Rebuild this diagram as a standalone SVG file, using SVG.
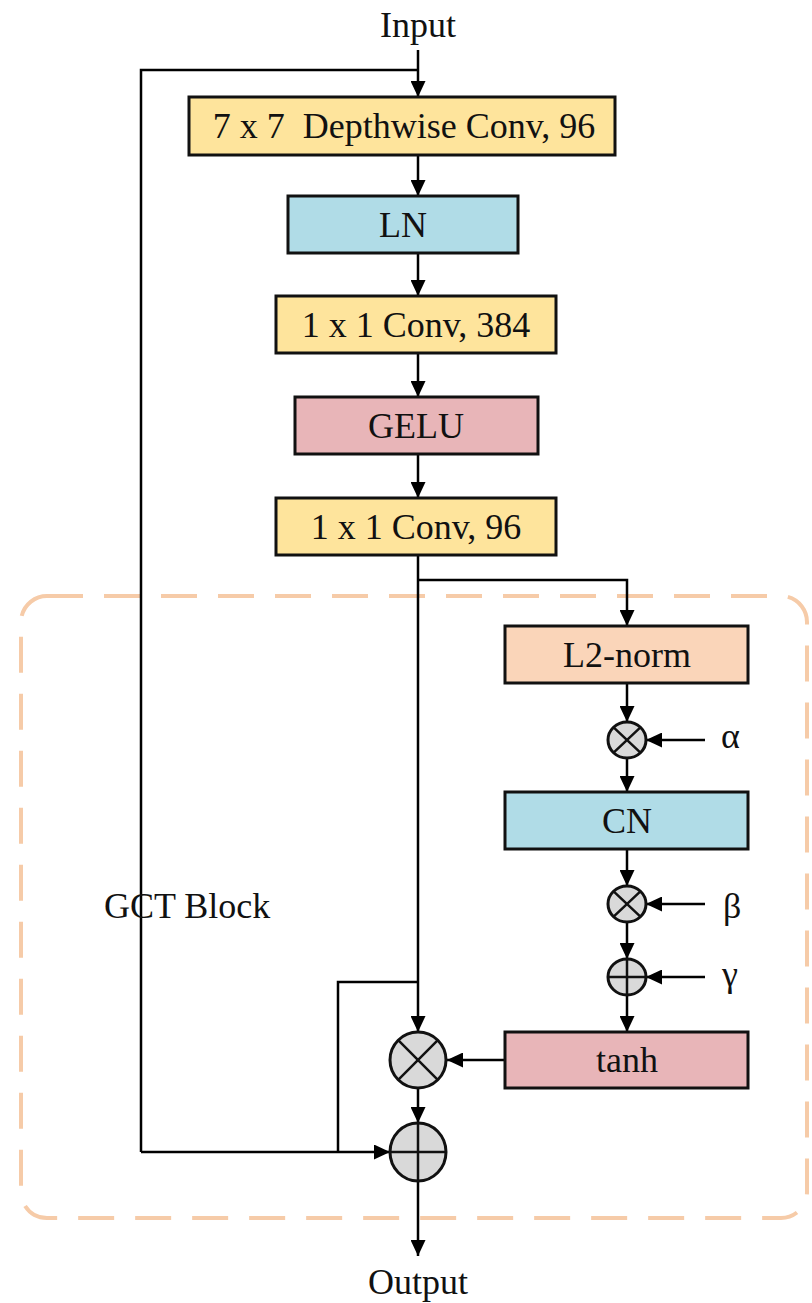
<svg xmlns="http://www.w3.org/2000/svg" width="812" height="1303" viewBox="0 0 812 1303">
<defs>
<marker id="ah" viewBox="0 0 16 15" refX="16" refY="7.5" markerWidth="16" markerHeight="15" markerUnits="userSpaceOnUse" orient="auto">
<path d="M0,0 L16,7.5 L0,15 Z" fill="#000"/>
</marker>
<style>
.box{stroke:#111;stroke-width:3}
.yel{fill:#FEE49C}
.blu{fill:#B0DCE7}
.pnk{fill:#E8B5B8}
.pch{fill:#FAD5B9}
.t{font-family:"Liberation Serif","Times New Roman",serif;font-size:36px;fill:#111;text-anchor:middle}
.tl{font-family:"Liberation Serif","Times New Roman",serif;font-size:36px;fill:#111}
.c{stroke:#000;stroke-width:2.5;fill:none}
.a{stroke:#000;stroke-width:2.5;fill:none;marker-end:url(#ah)}
.op{fill:#D9D9D9;stroke:#111;stroke-width:3}
.opl{stroke:#111;stroke-width:2.5;fill:none}
</style>
</defs>
<rect id="gct-frame" x="21" y="596" width="786" height="622" rx="26" fill="none" stroke="#F6CBA8" stroke-width="4" stroke-dasharray="36 21"/>
<g id="connectors">
<path class="c" d="M141,1152 L141,70 L418,70"/>
<path class="a" d="M418,50 L418,97"/>
<path class="a" d="M418,155 L418,196"/>
<path class="a" d="M418,253 L418,296"/>
<path class="a" d="M418,353 L418,397"/>
<path class="a" d="M418,454 L418,498"/>
<path class="a" d="M418,555 L418,1032"/>
<path class="a" d="M418,580 L627,580 L627,626"/>
<path class="a" d="M627,683 L627,722"/>
<path class="a" d="M705,740 L646,740"/>
<path class="a" d="M627,758 L627,792"/>
<path class="a" d="M627,849 L627,886"/>
<path class="a" d="M705,904 L646,904"/>
<path class="a" d="M627,922 L627,959"/>
<path class="a" d="M705,977 L646,977"/>
<path class="a" d="M627,995 L627,1032"/>
<path class="a" d="M505,1060 L447,1060"/>
<path class="a" d="M418,1088 L418,1123"/>
<path class="c" d="M418,982 L338,982 L338,1152"/>
<path class="a" d="M141,1152 L390,1152"/>
<path class="a" d="M418,1181 L418,1256"/>
</g>
<g id="input"><text class="t" x="418" y="37">Input</text></g>
<g id="dwconv"><rect class="box yel" x="189" y="97" width="426" height="58"/><text class="t" x="404" y="138" xml:space="preserve">7 x 7  Depthwise Conv, 96</text></g>
<g id="ln"><rect class="box blu" x="288" y="196" width="230" height="57"/><text class="t" x="403" y="237">LN</text></g>
<g id="conv384"><rect class="box yel" x="276" y="296" width="280" height="57"/><text class="t" x="416" y="337">1 x 1 Conv, 384</text></g>
<g id="gelu"><rect class="box pnk" x="295" y="397" width="243" height="57"/><text class="t" x="416" y="438">GELU</text></g>
<g id="conv96"><rect class="box yel" x="276" y="498" width="280" height="57"/><text class="t" x="416" y="539">1 x 1 Conv, 96</text></g>
<g id="l2norm"><rect class="box pch" x="505" y="626" width="243" height="57"/><text class="t" x="627" y="667">L2-norm</text></g>
<g id="mul-alpha"><ellipse class="op" cx="627" cy="740" rx="19" ry="18"/><path class="opl" d="M613.6,727.3 L640.4,752.7 M640.4,727.3 L613.6,752.7"/></g>
<g id="alpha"><text class="tl" x="721" y="748">α</text></g>
<g id="cn"><rect class="box blu" x="505" y="792" width="243" height="57"/><text class="t" x="627" y="833">CN</text></g>
<g id="mul-beta"><ellipse class="op" cx="627" cy="904" rx="19" ry="18"/><path class="opl" d="M613.6,891.3 L640.4,916.7 M640.4,891.3 L613.6,916.7"/></g>
<g id="beta"><text class="tl" x="723" y="918">β</text></g>
<g id="add-gamma"><ellipse class="op" cx="627" cy="977" rx="19" ry="18"/><path class="opl" d="M608,977 L646,977 M627,959 L627,995"/></g>
<g id="gamma"><text class="tl" x="722" y="986">γ</text></g>
<g id="tanh"><rect class="box pnk" x="505" y="1032" width="243" height="56"/><text class="t" x="627" y="1072">tanh</text></g>
<g id="mul-main"><ellipse class="op" cx="418" cy="1060" rx="28" ry="28"/><path class="opl" d="M398.2,1040.2 L437.8,1079.8 M437.8,1040.2 L398.2,1079.8"/></g>
<g id="add-main"><ellipse class="op" cx="418" cy="1152" rx="28" ry="29"/><path class="opl" d="M390,1152 L446,1152 M418,1123 L418,1181"/></g>
<g id="gct-label"><text class="tl" x="104" y="918">GCT Block</text></g>
<g id="output"><text class="t" x="418" y="1294">Output</text></g>
</svg>
